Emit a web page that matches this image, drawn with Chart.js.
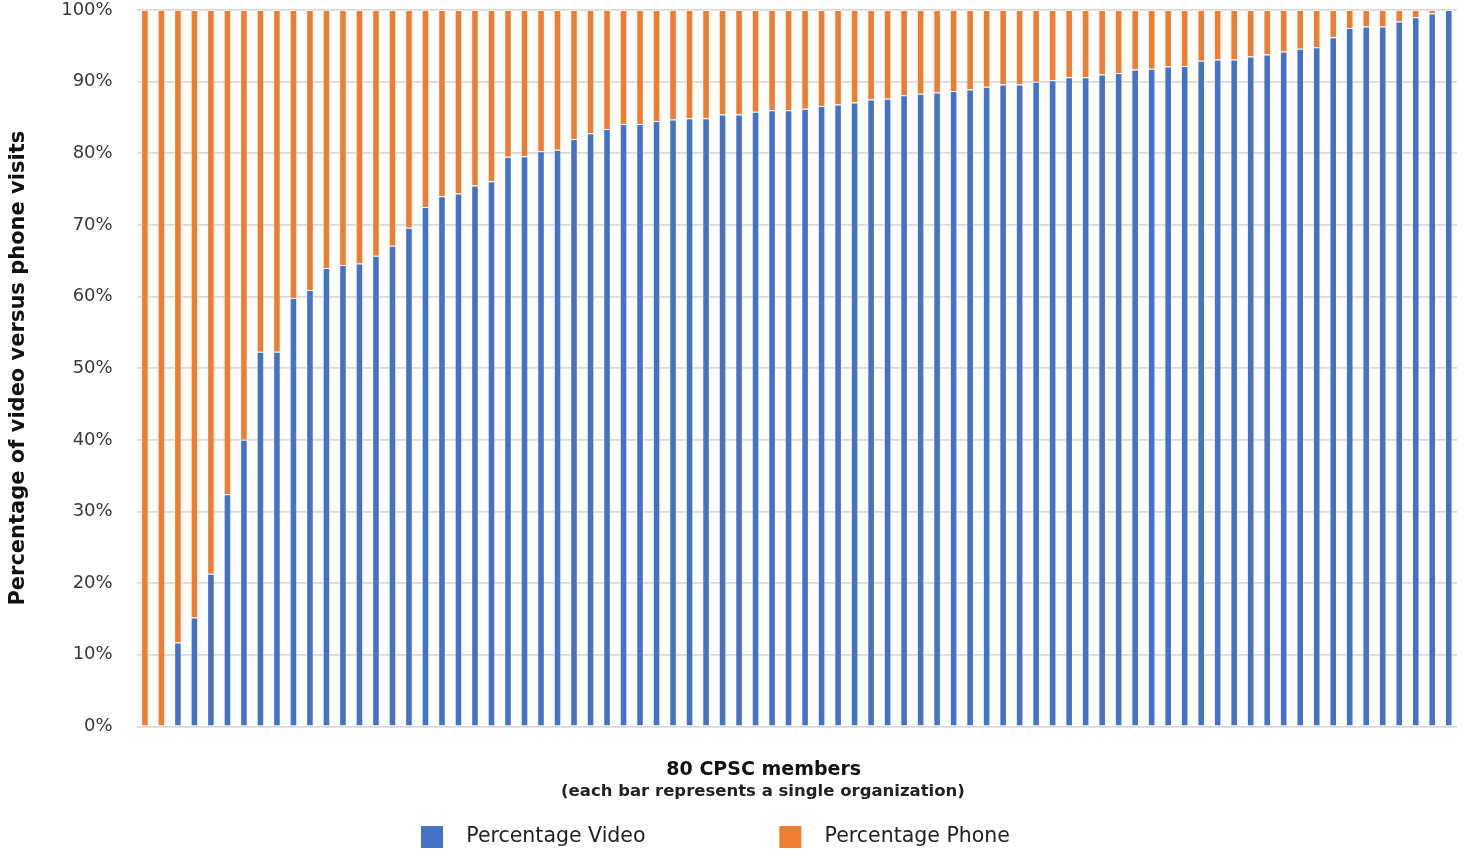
<!DOCTYPE html>
<html>
<head>
<meta charset="utf-8">
<script src="https://cdn.jsdelivr.net/npm/chart.js@4/dist/chart.umd.min.js"></script>
<style>
  html, body { margin: 0; padding: 0; background: #ffffff; }
  #wrap { width: 1465px; height: 849px; }
</style>
</head>
<body>
<div id="wrap"><canvas id="chart" width="1465" height="849"></canvas></div>
<script>
// Share of visits delivered by video vs. phone, one bar per member organization (sorted).
const videoShare = [
  0, 0, 11.7, 15.2, 21.3, 32.4, 40.0, 52.3, 52.3, 59.8,
  60.9, 64.0, 64.4, 64.6, 65.7, 67.1, 69.6, 72.5, 74.0, 74.4,
  75.5, 76.1, 79.5, 79.6, 80.3, 80.5, 82.0, 82.8, 83.4, 84.1,
  84.1, 84.5, 84.7, 84.9, 84.9, 85.4, 85.4, 85.8, 86.0, 86.0,
  86.2, 86.6, 86.8, 87.1, 87.5, 87.6, 88.1, 88.3, 88.5, 88.7,
  88.9, 89.3, 89.6, 89.6, 90.0, 90.2, 90.6, 90.6, 91.0, 91.2,
  91.7, 91.8, 92.1, 92.2, 92.9, 93.1, 93.1, 93.5, 93.8, 94.2,
  94.6, 94.8, 96.2, 97.5, 97.7, 97.7, 98.4, 99.0, 99.5, 100
];
const phoneShare = [
  100, 100, 88.3, 84.8, 78.7, 67.6, 60.0, 47.7, 47.7, 40.2,
  39.1, 36.0, 35.6, 35.4, 34.3, 32.9, 30.4, 27.5, 26.0, 25.6,
  24.5, 23.9, 20.5, 20.4, 19.7, 19.5, 18.0, 17.2, 16.6, 15.9,
  15.9, 15.5, 15.3, 15.1, 15.1, 14.6, 14.6, 14.2, 14.0, 14.0,
  13.8, 13.4, 13.2, 12.9, 12.5, 12.4, 11.9, 11.7, 11.5, 11.3,
  11.1, 10.7, 10.4, 10.4, 10.0, 9.8, 9.4, 9.4, 9.0, 8.8,
  8.3, 8.2, 7.9, 7.8, 7.1, 6.9, 6.9, 6.5, 6.2, 5.8,
  5.4, 5.2, 3.8, 2.5, 2.3, 2.3, 1.6, 1.0, 0.5, 0
];
const members = videoShare.map((_, i) => 'Member ' + (i + 1));
const seriesNames = ['Percentage Video', 'Percentage Phone'];
const yTickLabels = ['0%', '10%', '20%', '30%', '40%', '50%', '60%', '70%', '80%', '90%', '100%'];

const FONT = "'DejaVu Sans', 'Noto Sans', sans-serif";
const NBSP = '\u00A0';
const pad = (n) => NBSP.repeat(n);

new Chart(document.getElementById('chart'), {
  type: 'bar',
  data: {
    labels: members,
    datasets: [
      {
        label: seriesNames[0],
        data: videoShare,
        backgroundColor: '#4472C4',
        borderColor: 'rgba(255,255,255,0.35)',
        borderWidth: 1,
        barPercentage: 0.46,
        categoryPercentage: 1.0
      },
      {
        label: seriesNames[1],
        data: phoneShare,
        backgroundColor: '#ED7D31',
        borderColor: 'rgba(255,255,255,0.35)',
        borderWidth: 1,
        barPercentage: 0.46,
        categoryPercentage: 1.0
      }
    ]
  },
  options: {
    responsive: false,
    animation: false,
    layout: { padding: { top: 0, right: 8, left: 0, bottom: -9 } },
    plugins: {
      tooltip: { enabled: false },
      legend: {
        position: 'bottom',
        labels: {
          boxWidth: 22,
          boxHeight: 22,
          padding: 10,
          color: '#222222',
          font: { family: FONT, size: 20.5 },
          // wide gap between the two legend entries
          generateLabels: (chart) => {
            const items = Chart.defaults.plugins.legend.labels.generateLabels(chart);
            items.forEach((it, i) => {
              it.text = pad(2) + it.text + (i === 0 ? pad(19) : pad(4));
              it.lineWidth = 0;
            });
            return items;
          }
        }
      },
      subtitle: {
        display: true,
        position: 'bottom',
        weight: 500,
        text: pad(12) + '(each bar represents a single organization)',
        color: '#222222',
        font: { family: FONT, size: 16.5, weight: 'bold' },
        padding: { top: 1, bottom: 14 }
      }
    },
    scales: {
      x: {
        stacked: true,
        grid: { display: false },
        border: { display: false },
        ticks: { display: false },
        title: {
          display: true,
          text: '80 CPSC members' + pad(10),
          color: '#111111',
          font: { family: FONT, size: 19, weight: 'bold' },
          padding: { top: 24, bottom: 0 }
        }
      },
      y: {
        stacked: true,
        min: 0,
        max: 100,
        border: { display: false },
        grid: { color: '#d9d9d9', lineWidth: 1.8, drawTicks: false },
        ticks: {
          stepSize: 10,
          padding: 24,
          color: '#383838',
          font: { family: FONT, size: 18 },
          callback: (v) => yTickLabels[Math.round(v / 10)]
        },
        // keep the vertical label padding to half a label height
        afterFit: (scale) => {
          scale.paddingTop = 10;
          scale.paddingBottom = 10;
        },
        title: {
          display: true,
          text: 'Percentage of video versus phone visits',
          color: '#111111',
          font: { family: FONT, size: 21, weight: 'bold' },
          padding: { top: 6, bottom: 6 }
        }
      }
    }
  }
});
</script>
</body>
</html>
